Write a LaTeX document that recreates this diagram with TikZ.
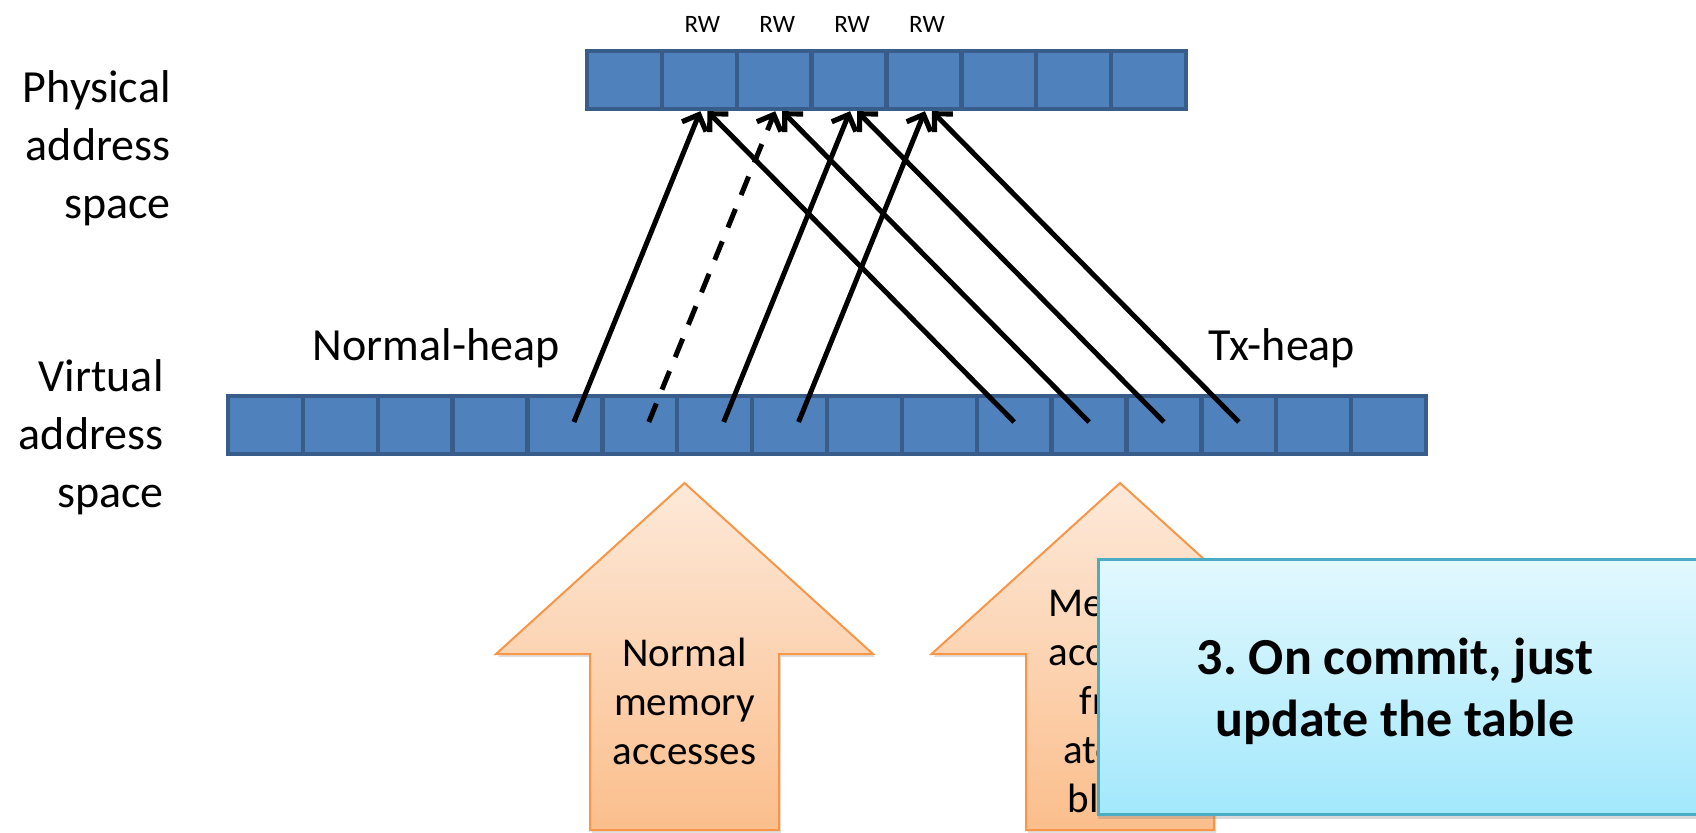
\documentclass[tikz,border=0pt]{standalone}
\usepackage{fontspec}
\setmainfont{Carlito}
\usetikzlibrary{arrows.meta,shadows,calc}
\definecolor{cellfill}{HTML}{4F81BD}
\definecolor{celldraw}{HTML}{385D8A}
\definecolor{orfillA}{HTML}{FDE9D9}
\definecolor{orfillB}{HTML}{FBBE8C}
\definecolor{ordraw}{HTML}{F79646}
\definecolor{bxA}{HTML}{E2F8FE}
\definecolor{bxB}{HTML}{A3E8FC}
\definecolor{bxdraw}{HTML}{4BACC6}
\begin{document}
\frenchspacing
\begin{tikzpicture}[x=0.5pt,y=-0.5pt,
  cell/.style={draw=celldraw, fill=cellfill, line width=2.2pt, minimum width=37.44pt, minimum height=29pt, inner sep=0pt},
  arr/.style={line width=2.5pt, -{Straight Barb[length=6.5pt,width=13pt,line width=2.6pt]}},
  dsh/.style={dash pattern=on 10pt off 7.5pt},
  side/.style={font=\fontsize{23}{29}\selectfont, align=right, anchor=east, inner sep=0pt},
  heap/.style={font=\fontsize{23}{29}\selectfont, inner sep=0pt},
  rw/.style={font=\fontsize{12.5}{14}\selectfont, inner sep=0pt},
  armtext/.style={font=\fontsize{20.5}{24.5}\selectfont, align=center, inner sep=0pt},
  bigarrow/.style={top color=orfillA, bottom color=orfillB, draw=ordraw, line width=1pt,
     drop shadow={shadow xshift=1pt, shadow yshift=-1.5pt, opacity=0.25, fill=black!50}},
  notebox/.style={top color=bxA, bottom color=bxB, draw=bxdraw, line width=1.5pt,
     drop shadow={shadow xshift=0pt, shadow yshift=-2.5pt, opacity=0.3, fill=black!50}},
  notetext/.style={font=\fontsize{26}{31}\selectfont\bfseries, align=center, inner sep=0pt}
]
\useasboundingbox (0,0) rectangle (1696,832);
\clip (0,0) rectangle (1696,832);

% physical cells
\foreach \i in {1,...,8}
  \node[cell] (p\i) at ({587+(\i-0.5)*74.875}, 80) {};
% virtual cells
\foreach \j in {1,...,16}
  \node[cell] (v\j) at ({228+(\j-0.5)*74.875}, 425) {};

% RW labels
\foreach \i in {2,3,4,5}
  \node[rw] (rw\i) at ($(p\i.center)+(3,-56)$) {RW};

% labels
\node[side] (phys) at (171,148) {Physical\\address\\space};
\node[side] (virt) at (164,437) {Virtual\\address\\space};
\node[heap] (nh) at (436,348) {Normal-heap};
\node[heap] (th) at (1282,348) {Tx-heap};

% mapping arrows, normal heap
\draw[arr] ([xshift=4.5pt,yshift=1.5pt]v5.center) -- ([xshift=0.5pt]p2.south);
\draw[arr,dsh] ([xshift=4.5pt,yshift=1.5pt]v6.center) -- ([xshift=0.5pt]p3.south);
\draw[arr] ([xshift=4.5pt,yshift=1.5pt]v7.center) -- ([xshift=0.5pt]p4.south);
\draw[arr] ([xshift=4.5pt,yshift=1.5pt]v8.center) -- ([xshift=0.5pt]p5.south);
% mapping arrows, tx heap
\draw[arr] ([yshift=1.5pt]v11.center) -- ([xshift=4pt]p2.south);
\draw[arr] ([yshift=1.5pt]v12.center) -- ([xshift=4pt]p3.south);
\draw[arr] ([yshift=1.5pt]v13.center) -- ([xshift=4pt]p4.south);
\draw[arr] ([yshift=1.5pt]v14.center) -- ([xshift=4pt]p5.south);

% big orange arrows
\shade[bigarrow] (684.5,483) -- (873,654) -- (779,654) -- (779,830) -- (590,830) -- (590,654) -- (496,654) -- cycle;
\node[armtext] (na) at (684.5,701) {Normal\\memory\\accesses};
\shade[bigarrow] (1120,483) -- (1308.5,654) -- (1214,654) -- (1214,830) -- (1026,830) -- (1026,654) -- (931.5,654) -- cycle;
\node[armtext] (ma) at (1120,701) {Memory\\accesses\\from\\atomic\\blocks};

% note box
\shade[notebox] (1098,559) rectangle (1720,814);
\node[notetext] (note) at (1395,691) {3. On commit, just\\update the table};
\end{tikzpicture}
\end{document}
